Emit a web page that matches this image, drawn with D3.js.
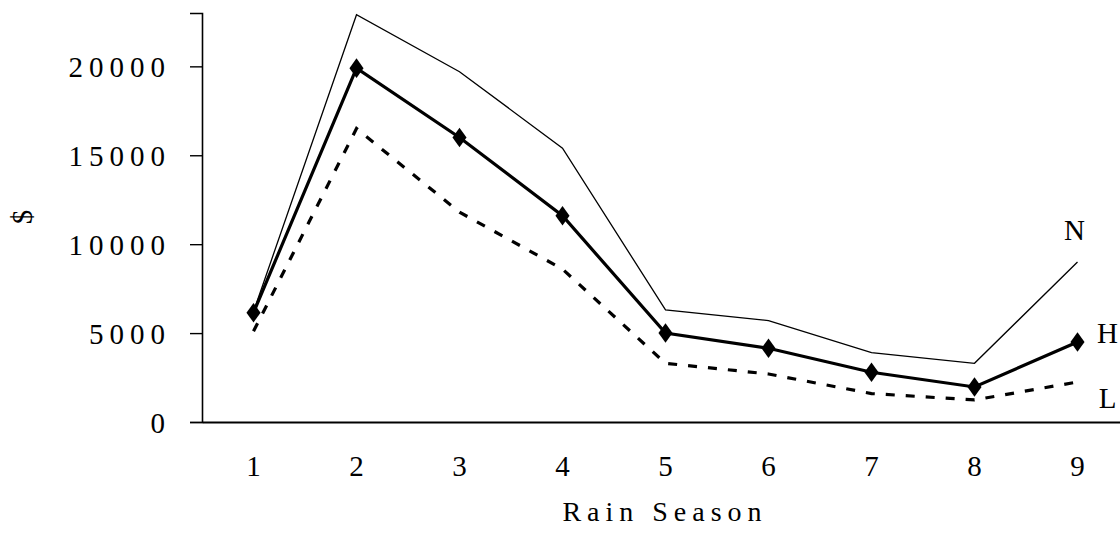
<!DOCTYPE html>
<html>
<head>
<meta charset="utf-8">
<script src="https://cdn.jsdelivr.net/npm/d3@7"></script>
<style>
  body { margin: 0; background: #fff; }
  svg { display: block; font-family: "Liberation Serif", "Times New Roman", serif; }
</style>
</head>
<body>
<div id="chart"></div>
<script>
// rain seasons on the x axis
const seasons = [1, 2, 3, 4, 5, 6, 7, 8, 9];
// series values ($)
const seriesN = [6200, 22900, 19700, 15400, 6300, 5700, 3900, 3300, 9000];
const seriesH = [6150, 19900, 16000, 11600, 5000, 4150, 2800, 1970, 4500];
const seriesL = [5100, 16500, 11800, 8600, 3300, 2700, 1600, 1240, 2250];
const yTicks = [0, 5000, 10000, 15000, 20000];

var width = 1120, height = 533;
var margin = { top: 13, left: 202, bottom: 111 };

var svg = d3.select("#chart")
  .append("svg")
    .attr("width", width)
    .attr("height", height);

// x goes a bit past the right edge, like the original
var x = d3.scaleBand()
    .domain(seasons)
    .range([margin.left, 1129]);

var y = d3.scaleLinear()
    .domain([0, 23000])
    .range([height - margin.bottom, margin.top]);

// y axis
var yAxis = svg.append("g")
    .attr("transform", `translate(${margin.left},0)`)
    .call(d3.axisLeft(y).tickValues(yTicks).tickSize(12).tickFormat(d3.format("d")));
yAxis.select(".domain").attr("stroke", "#000").attr("stroke-width", 1.6);
yAxis.selectAll(".tick line").attr("stroke-width", 1.4);
yAxis.selectAll("text")
    .style("font-size", "29px")
    .style("letter-spacing", "6px")
    .attr("dy", "0.35em")
    .attr("x", -31)
    .style("font-family", "Liberation Serif");

// x axis, no tick marks
var xAxis = svg.append("g")
    .attr("transform", `translate(0,${y(0)})`)
    .call(d3.axisBottom(x).tickSize(0).tickPadding(33));
xAxis.select(".domain").attr("stroke", "#000").attr("stroke-width", 2.2);
xAxis.selectAll("text")
    .style("font-size", "29px")
    .style("font-family", "Liberation Serif");

var cx = d => x(d) + x.bandwidth() / 2;

function line(values) {
  return d3.line()
    .x((d, i) => cx(seasons[i]))
    .y(d => y(d))(values);
}

// N: thin solid
svg.append("path")
    .attr("d", line(seriesN))
    .attr("fill", "none")
    .attr("stroke", "#000")
    .attr("stroke-width", 1.3);

// L: dashed
svg.append("path")
    .attr("d", line(seriesL))
    .attr("fill", "none")
    .attr("stroke", "#000")
    .attr("stroke-width", 3.2)
    .attr("stroke-dasharray", "9,11");

// H: thick with diamonds
svg.append("path")
    .attr("d", line(seriesH))
    .attr("fill", "none")
    .attr("stroke", "#000")
    .attr("stroke-width", 3.2);

svg.append("g")
  .selectAll("path")
  .data(seriesH)
  .enter()
  .append("path")
    .attr("d", d3.symbol().type(d3.symbolDiamond).size(110))
    .attr("transform", (d, i) => `translate(${cx(seasons[i])},${y(d)}) scale(1.25,1)`)
    .attr("fill", "#000");

// series labels at the right end
var last = seasons.length - 1;
var endLabels = [
  { text: "N", v: seriesN[last], dx: -3, dy: -32 },
  { text: "H", v: seriesH[last], dx: 30, dy: -9 },
  { text: "L", v: seriesL[last], dx: 30, dy: 16 }
];
svg.append("g")
  .selectAll("text")
  .data(endLabels)
  .enter()
  .append("text")
    .attr("x", d => cx(seasons[last]) + d.dx)
    .attr("y", d => y(d.v) + d.dy)
    .attr("text-anchor", "middle")
    .attr("dy", "0.35em")
    .style("font-size", "29px")
    .text(d => d.text);

// axis titles
svg.append("text")
    .attr("transform", "translate(22,217) rotate(-90)")
    .attr("text-anchor", "middle")
    .attr("dy", "0.35em")
    .style("font-size", "29px")
    .text("$");

svg.append("text")
    .attr("x", 665)
    .attr("y", 521)
    .attr("text-anchor", "middle")
    .style("font-size", "28px")
    .style("letter-spacing", "6px")
    .text("Rain Season");
</script>
</body>
</html>
